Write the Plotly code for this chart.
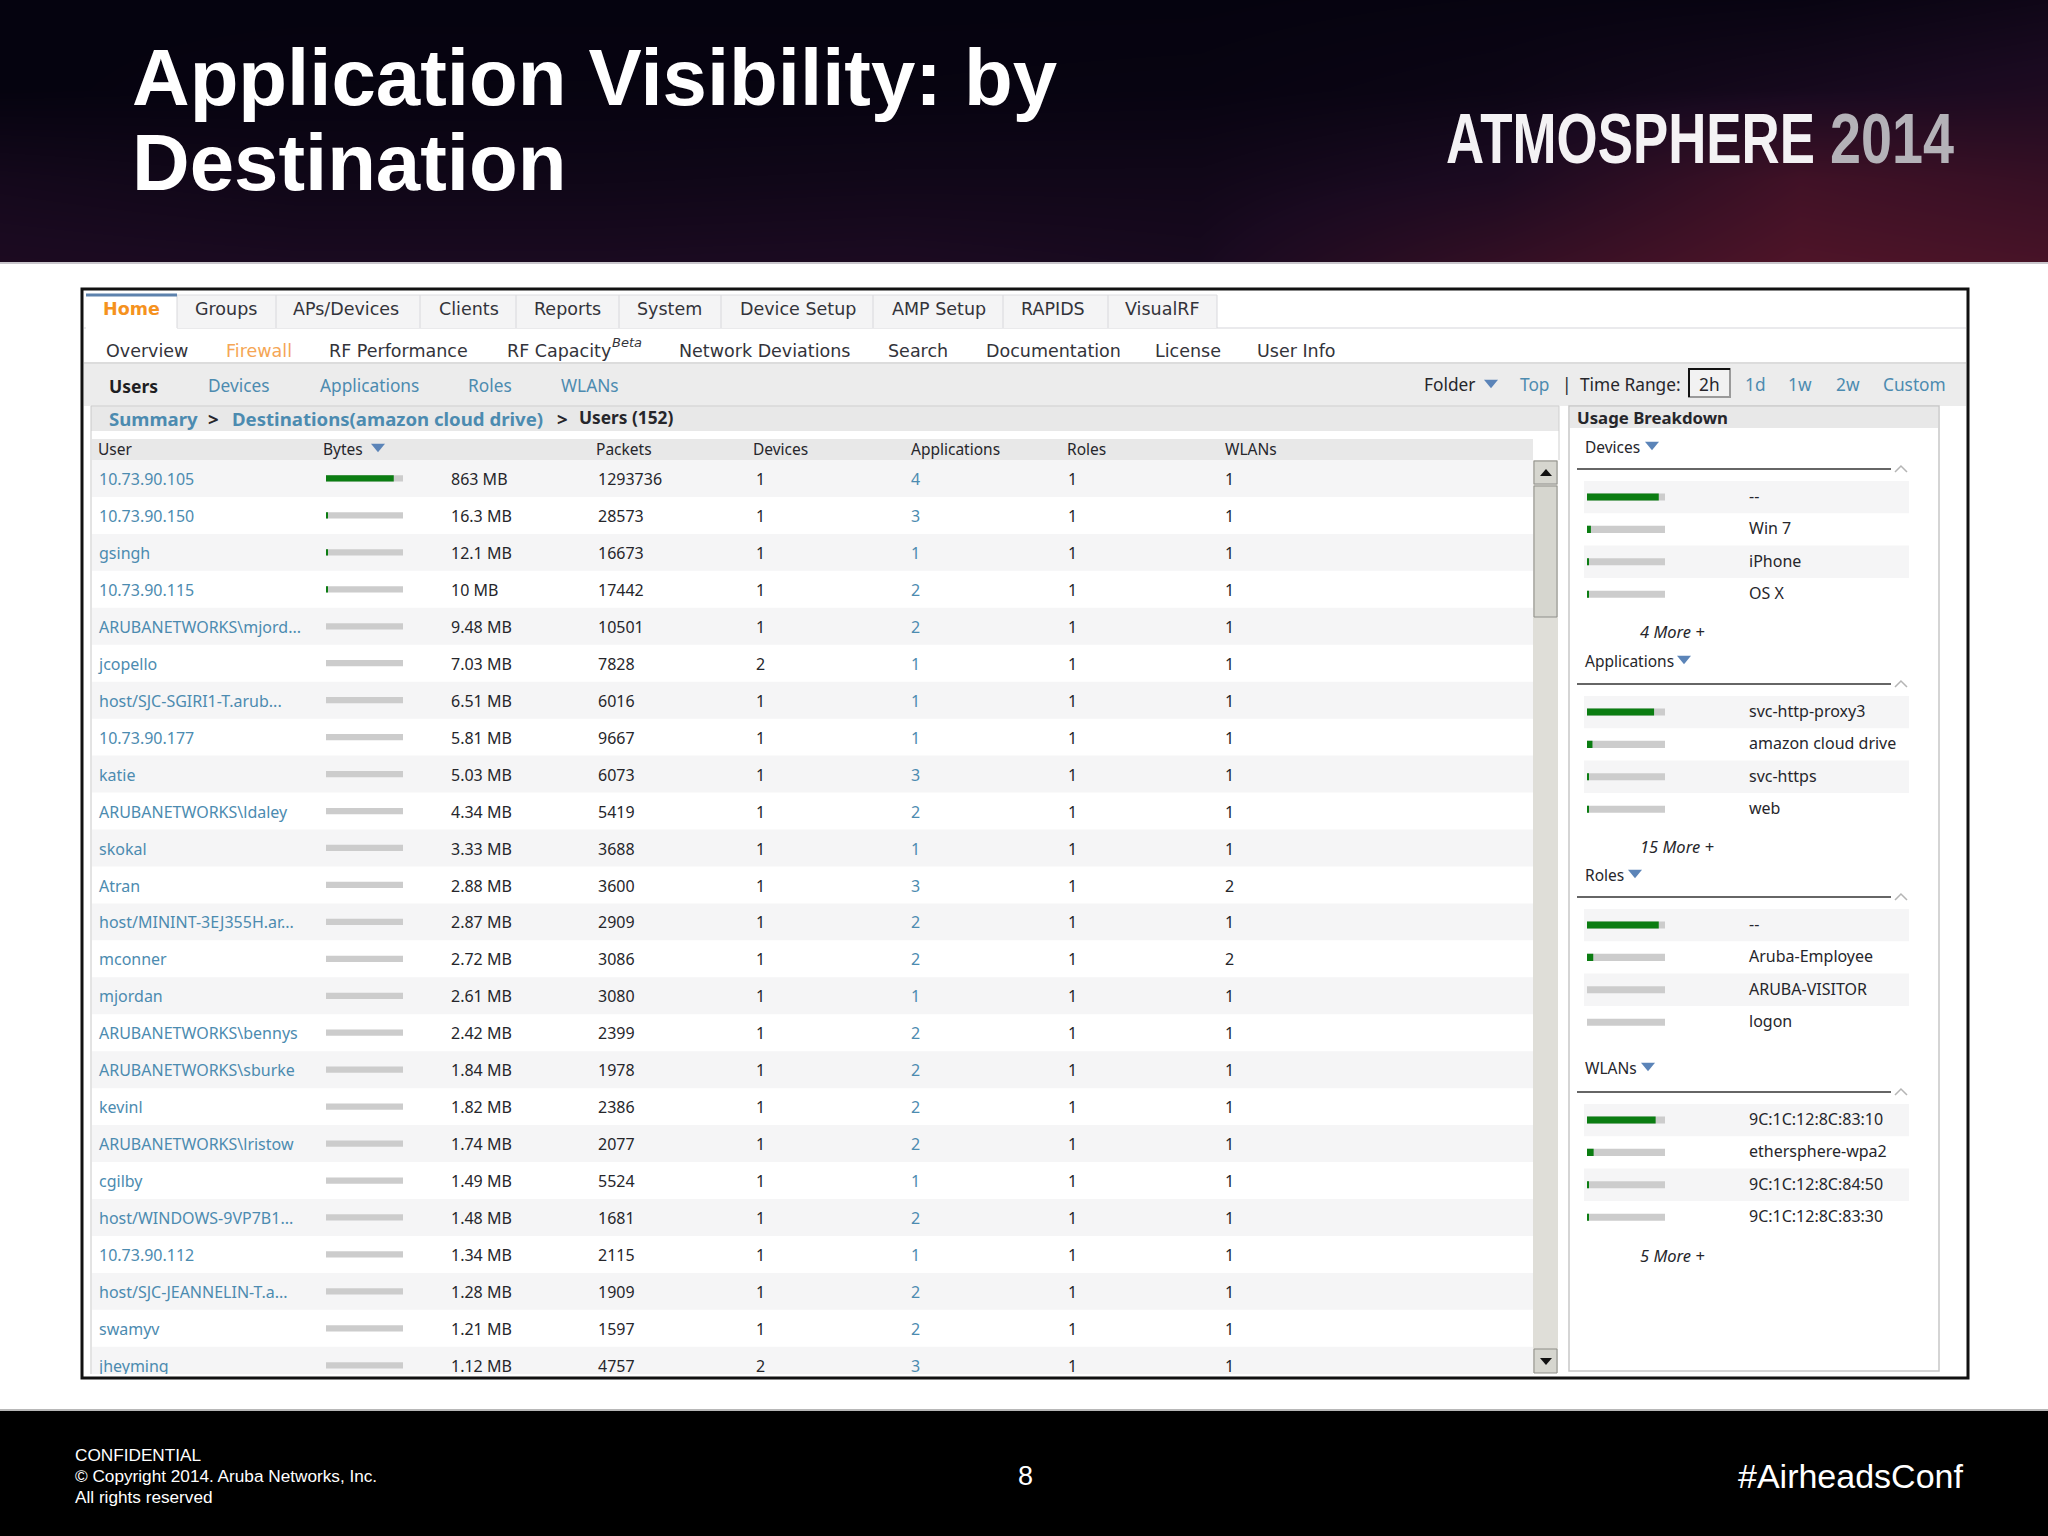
import plotly.graph_objects as go

W = 2048
H = 1536

# main table
users = ["10.73.90.105", "10.73.90.150", "gsingh", "10.73.90.115", "ARUBANETWORKS\\mjord...", "jcopello",
         "host/SJC-SGIRI1-T.arub...", "10.73.90.177", "katie", "ARUBANETWORKS\\ldaley", "skokal", "Atran",
         "host/MININT-3EJ355H.ar...", "mconner", "mjordan", "ARUBANETWORKS\\bennys", "ARUBANETWORKS\\sburke",
         "kevinl", "ARUBANETWORKS\\lristow", "cgilby", "host/WINDOWS-9VP7B1...", "10.73.90.112",
         "host/SJC-JEANNELIN-T.a...", "swamyv", "jheyming"]
bytes_label = ["863 MB", "16.3 MB", "12.1 MB", "10 MB", "9.48 MB", "7.03 MB", "6.51 MB", "5.81 MB", "5.03 MB",
               "4.34 MB", "3.33 MB", "2.88 MB", "2.87 MB", "2.72 MB", "2.61 MB", "2.42 MB", "1.84 MB", "1.82 MB",
               "1.74 MB", "1.49 MB", "1.48 MB", "1.34 MB", "1.28 MB", "1.21 MB", "1.12 MB"]
bytes_share = [88, 2.5, 2.5, 2, 0, 0, 0, 0, 0, 0, 0, 0, 0, 0, 0, 0, 0, 0, 0, 0, 0, 0, 0, 0, 0]
packets = [1293736, 28573, 16673, 17442, 10501, 7828, 6016, 9667, 6073, 5419, 3688, 3600, 2909, 3086, 3080,
           2399, 1978, 2386, 2077, 5524, 1681, 2115, 1909, 1597, 4757]
devices = [1, 1, 1, 1, 1, 2, 1, 1, 1, 1, 1, 1, 1, 1, 1, 1, 1, 1, 1, 1, 1, 1, 1, 1, 2]
applications = [4, 3, 1, 2, 2, 1, 1, 1, 3, 2, 1, 3, 2, 2, 1, 2, 2, 2, 2, 1, 2, 1, 2, 2, 3]
roles = [1] * 25
wlans = [1, 1, 1, 1, 1, 1, 1, 1, 1, 1, 1, 2, 1, 2, 1, 1, 1, 1, 1, 1, 1, 1, 1, 1, 1]

# usage breakdown
break_titles = ["Devices", "Applications", "Roles", "WLANs"]
break_more = ["4 More +", "15 More +", None, "5 More +"]
break_labels = [["--", "Win 7", "iPhone", "OS X"],
                ["svc-http-proxy3", "amazon cloud drive", "svc-https", "web"],
                ["--", "Aruba-Employee", "ARUBA-VISITOR", "logon"],
                ["9C:1C:12:8C:83:10", "ethersphere-wpa2", "9C:1C:12:8C:84:50", "9C:1C:12:8C:83:30"]]
break_values = [[92, 5, 2, 2],
                [86, 7, 2, 2],
                [92, 8, 0, 0],
                [88, 8.5, 2, 2]]

# page text
title_lines = ["Application Visibility: by", "Destination"]
tabs = ["Groups", "APs/Devices", "Clients", "Reports", "System", "Device Setup", "AMP Setup", "RAPIDS", "VisualRF"]
subnav = ["Overview", "RF Performance", "RF Capacity", "Network Deviations", "Search", "Documentation",
          "License", "User Info"]
views = ["Devices", "Applications", "Roles", "WLANs"]
ranges = ["Top", "1d", "1w", "2w", "Custom"]
columns = ["User", "Bytes", "Packets", "Devices", "Applications", "Roles", "WLANs"]
footer = ["CONFIDENTIAL", "© Copyright 2014. Aruba Networks, Inc.", "All rights reserved"]

# header glow, coarse grid
glow_x = [0, 300, 600, 900, 1200, 1500, 1800, 2048]
glow_y = [0, 90, 180, 262]
glow_z = [[0, 0, 0, 0, 0, 0.02, 0.04, 0.12],
          [0, 0.02, 0.02, 0.02, 0.03, 0.08, 0.2, 0.3],
          [0.18, 0.12, 0.12, 0.14, 0.14, 0.28, 0.8, 0.65],
          [0.28, 0.25, 0.25, 0.27, 0.22, 0.6, 1, 0.9]]

TAB_X = [195, 293, 439, 534, 637, 740, 892, 1021, 1125]
TAB_EDGE = [177, 276, 420, 516, 619, 721, 873, 1003, 1108, 1217]
SUB_X = [106, 329, 507, 679, 888, 986, 1155, 1257]
VIEW_X = [208, 320, 468, 561]
RANGE_X = [1520, 1745, 1788, 1836, 1883]
COL_X = [98, 323, 596, 753, 911, 1067, 1225]
SECTION_Y = [469, 684, 897, 1092]
LABEL_Y = [447, 661, 875, 1068]
MORE_Y = [631, 846, None, 1255]
BREAK_TRI_X = [1652, 1684, 1635, 1648]

NAV = "DejaVu Sans"
UI = "Noto Sans"
DARK = "#26262b"
LINK = "#4c8bb0"
GREEN = "#0b7d12"
TRACK = "#cccccc"
STRIPE = "#f5f5f6"
ROW_H = 36.95
BREAK_H = 32.4


def px(x):
    return x / W


def py(y):
    return 1 - y / H


def rect(x0, y0, x1, y1, fill, line=None, width=1):
    return dict(type="rect", xref="paper", yref="paper", x0=px(x0), x1=px(x1), y0=py(y0), y1=py(y1),
                fillcolor=fill, line=dict(color=line, width=width) if line else dict(width=0), layer="below")


def hline(x0, x1, y, color, width=1):
    return dict(type="line", xref="paper", yref="paper", x0=px(x0), x1=px(x1), y0=py(y), y1=py(y),
                line=dict(color=color, width=width), layer="below")


def vline(x, y0, y1, color, width=1):
    return dict(type="line", xref="paper", yref="paper", x0=px(x), x1=px(x), y0=py(y0), y1=py(y1),
                line=dict(color=color, width=width), layer="below")


def poly(points, fill=None, line=None, width=1):
    d = "M" + " L".join(f"{px(a):.5f},{py(b):.5f}" for a, b in points)
    if fill:
        d += " Z"
    return dict(type="path", xref="paper", yref="paper", path=d, fillcolor=fill or "rgba(0,0,0,0)",
                line=dict(color=line, width=width) if line else dict(width=0), layer="above")


def tri_down(x, y, size=7, fill="#5b84b8"):
    return poly([(x - size, y - size * 0.62), (x + size, y - size * 0.62), (x, y + size * 0.62)], fill=fill)


def text(s, x, y, size=16, color=DARK, font=UI, anchor="left", **kw):
    # annotations carry a little padding, pull the text back onto its x
    nudge = {"left": -2, "right": 2, "center": 0}[anchor]
    return dict(text=s, xref="paper", yref="paper", x=px(x + nudge), y=py(y), xanchor=anchor, yanchor="middle",
                showarrow=False, font=dict(family=font, size=size, color=color), align=anchor, **kw)


shapes = []
notes = []

# page blocks
shapes.append(rect(0, 262, W, 264, "#c9c6cc"))
shapes.append(rect(0, 1409, W, 1411, "#b8b8b8"))
shapes.append(rect(0, 1411, W, H, "#000000"))
shapes.append(rect(82, 289, 1968, 1378, "#ffffff", "#111111", 3))

# tabs
shapes.append(hline(84, 1966, 328, "#d5d5da"))
shapes.append(rect(177, 295, 1217, 328, "#f4f4f5"))
shapes.append(rect(86, 295, 177, 330, "#ffffff"))
for e in TAB_EDGE:
    shapes.append(vline(e, 295, 328, "#d8d8dc"))
shapes.append(hline(177, 1217, 295, "#dcdce0"))
shapes.append(hline(86, 177, 295, "#5d82ad", 3))
notes.append(text("<b>Home</b>", 103, 309, 17.5, "#f5921e", NAV))
for s, x in zip(tabs, TAB_X):
    notes.append(text(s, x, 309, 17.5, "#33333a", NAV))

# sub navigation
for s, x in zip(subnav, SUB_X):
    notes.append(text(s, x, 351, 17.5, "#33333a", NAV))
notes.append(text("Firewall", 226, 351, 17.5, "#f5a655", NAV))
notes.append(text("<i>Beta</i>", 612, 343, 13, "#33333a", NAV))

# view bar
shapes.append(rect(84, 363, 1966, 406, "#ececec"))
shapes.append(hline(84, 1966, 363, "#dcdcdc", 2))
notes.append(text("<b>Users</b>", 109, 386, 17.5, "#1e1e22"))
for s, x in zip(views, VIEW_X):
    notes.append(text(s, x, 386, 17.3, LINK))
notes.append(text("Folder", 1424, 384, 17.3, DARK))
shapes.append(tri_down(1491, 384))
notes.append(text("|", 1562, 384, 17.3, DARK))
notes.append(text("Time Range:", 1580, 384, 17.3, DARK))
shapes.append(rect(1689, 369, 1730, 397, "#f2f2f2", "#9a9a9a", 2))
shapes.append(hline(1688, 1730, 369, "#111111", 2))
shapes.append(vline(1689, 368, 397, "#111111", 2))
notes.append(text("2h", 1699, 384, 17.3, DARK))
for s, x in zip(ranges, RANGE_X):
    notes.append(text(s, x, 384, 17.3, LINK))

# breadcrumb and column headers
shapes.append(rect(91, 406, 1559, 431, "#e8e8e8"))
shapes.append(hline(91, 1559, 406, "#cfcfcf"))
shapes.append(vline(91, 406, 1374, "#c8c8c8"))
shapes.append(vline(1559, 406, 460, "#cfcfcf"))
notes.append(text("<b>Summary</b>", 109, 418, 18.6, LINK))
notes.append(text("<b>></b>", 208, 419, 18.6, DARK))
notes.append(text("<b>Destinations(amazon cloud drive)</b>", 232, 418, 18.6, LINK))
notes.append(text("<b>></b>", 557, 419, 18.6, DARK))
notes.append(text("<b>Users (152)</b>", 579, 417, 17.3, DARK))
shapes.append(rect(92, 439, 1533, 460, "#e8e8e8"))
for s, x in zip(columns, COL_X):
    notes.append(text(s, x, 449, 15.5, DARK))
shapes.append(tri_down(378, 448))

# scrollbar
shapes.append(rect(1533, 460, 1558, 1373, "#dfded8"))
shapes.append(rect(1534, 461, 1557, 484, "#d6d6cf", "#8f8f8a"))
shapes.append(rect(1534, 486, 1557, 617, "#d6d6cf", "#8f8f8a"))
shapes.append(rect(1534, 1349, 1557, 1373, "#d6d6cf", "#8f8f8a"))
shapes.append(poly([(1540, 476), (1552, 476), (1546, 469)], fill="#111111"))
shapes.append(poly([(1540, 1358), (1552, 1358), (1546, 1365)], fill="#111111"))

# usage breakdown panel
shapes.append(rect(1569, 406, 1939, 1371, "#ffffff", "#c8c8c8", 1.5))
shapes.append(rect(1570, 407, 1938, 428, "#e8e8e8"))
notes.append(text("<b>Usage Breakdown</b>", 1577, 417, 16.8, DARK))

# footer
for s, y in zip(footer, [1455, 1476, 1497]):
    notes.append(text(s, 75, y, 17.2, "#ffffff", "Liberation Sans"))
notes.append(text("8", 1025, 1476, 27, "#ffffff", "Liberation Sans", anchor="center"))
notes.append(text("#AirheadsConf", 1963, 1476, 34, "#ffffff", "Liberation Sans", anchor="right"))

# slide title and logo
for s, y in zip(title_lines, [77, 162]):
    notes.append(text(f"<b>{s}</b>", 132, y, 79.8, "#ffffff", "Liberation Sans"))
notes.append(text("<b>ATMOSPHERE</b>", 1446, 138, 71, "#f4f2f4", "Liberation Sans"))
notes.append(text("<b>2014</b>", 1830, 138, 71, "#b4b2b8", "Liberation Sans"))

fig = go.Figure()

# header glow
fig.add_trace(go.Heatmap(x=glow_x, y=glow_y, z=glow_z, xaxis="x", yaxis="y", showscale=False, zsmooth="best",
                         hoverinfo="skip", zmin=0, zmax=1,
                         colorscale=[[0, "#05030f"], [0.25, "#1a0a20"], [1, "#4e1428"]]))

# table rows, text is clipped at the bottom of the panel
rows = list(range(len(users)))
text_rows = [r + 0.07 for r in rows]
for r in rows:
    if r % 2 == 0:
        shapes.append(dict(type="rect", xref="x2", yref="y2", x0=92, x1=1533, y0=r - 0.5, y1=r + 0.5,
                           fillcolor=STRIPE, line=dict(width=0), layer="below"))

table_cols = [(users, 99, LINK), (bytes_label, 451, DARK), (packets, 598, DARK), (devices, 756, DARK),
              (applications, 911, LINK), (roles, 1068, DARK), (wlans, 1225, DARK)]
for vals, x, color in table_cols:
    fig.add_trace(go.Scatter(x=[x] * len(rows), y=text_rows, text=[str(v) for v in vals], mode="text",
                             textposition="middle right", cliponaxis=True, hoverinfo="skip",
                             textfont=dict(family=UI, size=16, color=color), xaxis="x2", yaxis="y2"))

fig.add_trace(go.Bar(x=[100] * len(rows), y=rows, orientation="h", width=0.17, marker=dict(color=TRACK, line=dict(width=0)),
                     xaxis="x3", yaxis="y2", hoverinfo="skip"))
fig.add_trace(go.Bar(x=bytes_share, y=rows, orientation="h", width=0.17, marker=dict(color=GREEN, line=dict(width=0)),
                     xaxis="x3", yaxis="y2", hoverinfo="skip"))

axes = dict(
    xaxis=dict(domain=[0, 1], range=[0, W], visible=False, anchor="y"),
    yaxis=dict(domain=[py(262), 1], range=[262, 0], visible=False, anchor="x"),
    xaxis2=dict(domain=[px(91), px(1533)], range=[91, 1533], visible=False, anchor="y2"),
    yaxis2=dict(domain=[py(1374), py(460)], range=[(1374 - 460) / ROW_H - 0.5, -0.5], visible=False, anchor="x2"),
    xaxis3=dict(domain=[px(326), px(403)], range=[0, 100], visible=False, anchor="y2"),
    xaxis4=dict(domain=[px(1587), px(1665)], range=[0, 100], visible=False, anchor="y3"),
)

# breakdown sections, one y axis each
for i, title in enumerate(break_titles):
    yname = f"y{i + 3}"
    top = SECTION_Y[i] + 28 - BREAK_H / 2
    axes[f"yaxis{i + 3}"] = dict(domain=[py(top + 4 * BREAK_H), py(top)], range=[3.5, -0.5], visible=False, anchor="x4")
    idx = list(range(len(break_labels[i])))
    fig.add_trace(go.Bar(x=[100] * 4, y=idx, orientation="h", width=0.22, marker=dict(color=TRACK, line=dict(width=0)),
                         xaxis="x4", yaxis=yname, hoverinfo="skip"))
    fig.add_trace(go.Bar(x=break_values[i], y=idx, orientation="h", width=0.22, marker=dict(color=GREEN, line=dict(width=0)),
                         xaxis="x4", yaxis=yname, hoverinfo="skip"))
    for k, lab in zip(idx, break_labels[i]):
        notes.append(dict(text=lab, xref="paper", yref=yname, x=px(1747), y=k, xanchor="left", yanchor="middle",
                          yshift=1, showarrow=False, font=dict(family=UI, size=16, color=DARK)))
        if k % 2 == 0:
            shapes.append(dict(type="rect", xref="paper", yref=yname, x0=px(1584), x1=px(1909), y0=k - 0.5, y1=k + 0.5,
                               fillcolor=STRIPE, line=dict(width=0), layer="below"))
    notes.append(text(title, 1585, LABEL_Y[i], 15.5, DARK))
    shapes.append(tri_down(BREAK_TRI_X[i], LABEL_Y[i] - 1))
    shapes.append(hline(1577, 1891, SECTION_Y[i], "#333333", 1.5))
    shapes.append(poly([(1895, SECTION_Y[i] + 3), (1901, SECTION_Y[i] - 3), (1907, SECTION_Y[i] + 3)], line="#b5b5b5", width=1.5))
    if break_more[i]:
        notes.append(text(f"<i>{break_more[i]}</i>", 1640, MORE_Y[i], 16.5, DARK))

fig.update_layout(
    width=W, height=H, margin=dict(l=0, r=0, t=0, b=0, pad=0), autosize=False,
    paper_bgcolor="#ffffff", plot_bgcolor="rgba(0,0,0,0)", showlegend=False, barmode="overlay",
    shapes=shapes, annotations=notes, **axes,
)

# no condensed face installed, squeeze the logo text instead
squeeze = """
document.body.style.margin='0';
document.querySelectorAll('.annotation-text').forEach(function(t){
  var w = {'ATMOSPHERE': 369, '2014': 124}[t.textContent];
  if (w) { t.setAttribute('textLength', w); t.setAttribute('lengthAdjust', 'spacingAndGlyphs'); }
});
"""
fig.write_html("out.html", post_script=squeeze, config=dict(displayModeBar=False))
